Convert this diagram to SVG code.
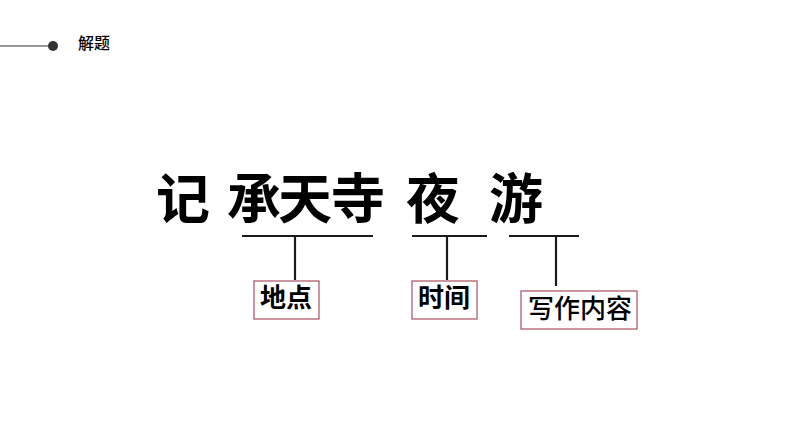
<svg xmlns="http://www.w3.org/2000/svg" width="794" height="447" viewBox="0 0 794 447">
<style>
.ln{stroke:#1a1a1a;stroke-width:2.2;fill:none}
.box{fill:#fff;stroke:#a85060;stroke-width:1.2}
.t{font-family:"Noto Sans CJK SC","Noto Sans",sans-serif;fill:#000}
</style>
<rect width="794" height="447" fill="#fff"/>
<g id="header">
<line x1="0" y1="46" x2="50" y2="46" stroke="#333" stroke-width="1.2"/>
<circle cx="53" cy="46" r="5" fill="#333"/>
<text class="t" x="78" y="49" font-size="16" font-weight="500" fill="#111">解题</text>
</g>
<g id="title">
<text class="t" font-size="54" font-weight="bold" y="219"><tspan x="156">记</tspan><tspan x="227">承</tspan><tspan x="278">天</tspan><tspan x="331">寺</tspan><tspan x="406">夜</tspan><tspan x="489">游</tspan></text>
</g>
<g id="connectors">
<line class="ln" x1="242" y1="236" x2="373" y2="236"/>
<line class="ln" x1="295" y1="236" x2="295" y2="280"/>
<line class="ln" x1="412" y1="236" x2="487" y2="236"/>
<line class="ln" x1="447" y1="236" x2="447" y2="280"/>
<line class="ln" x1="509" y1="236" x2="579" y2="236"/>
<line class="ln" x1="556" y1="236" x2="556" y2="286"/>
</g>
<g id="node-place">
<rect class="box" x="254" y="281" width="65" height="38"/>
<text class="t" x="260" y="307" font-size="26" font-weight="bold">地点</text>
</g>
<g id="node-time">
<rect class="box" x="412" y="281" width="65" height="38"/>
<text class="t" x="418" y="307" font-size="26" font-weight="bold">时间</text>
</g>
<g id="node-content">
<rect class="box" x="521" y="291" width="116" height="38"/>
<text class="t" x="528" y="318" font-size="26" font-weight="500">写作内容</text>
</g>
</svg>
